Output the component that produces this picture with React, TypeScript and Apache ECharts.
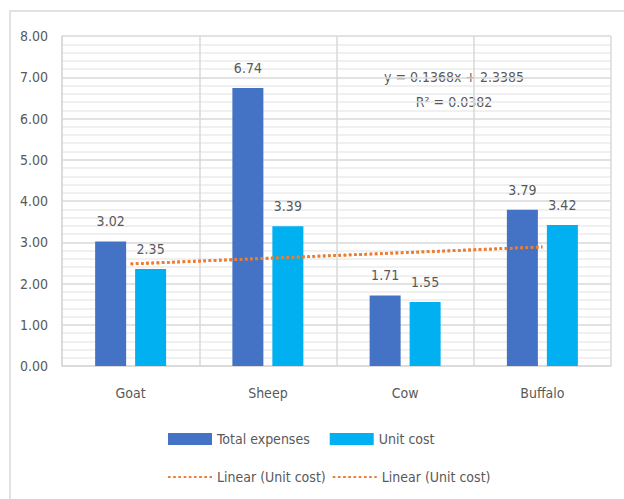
import React, { useEffect, useRef } from "react";
import * as echarts from "echarts";

// Livestock cost comparison
const categories = ["Goat", "Sheep", "Cow", "Buffalo"];
const totalExpenses = [3.02, 6.74, 1.71, 3.79];
const unitCost = [2.35, 3.39, 1.55, 3.42];
// Linear trend of unit cost: y = 0.1368x + 2.3385 at x = 1..4
const unitCostTrend = [2.475, 2.612, 2.749, 2.886];
const trendEquation = "y = 0.1368x + 2.3385";
const trendR2 = "R² = 0.0382";

const FONT = "'DejaVu Sans Condensed', 'Liberation Sans Narrow', Roboto, sans-serif";
const TEXT = "#595959";
const FS = 14;

export default function App() {
  const ref = useRef<HTMLDivElement>(null);

  useEffect(() => {
    if (!ref.current) return;
    const chart = echarts.init(ref.current, undefined, { renderer: "svg" });
    const labelStyle = {
      show: true,
      position: "top" as const,
      distance: 13,
      color: TEXT,
      fontSize: FS,
      fontFamily: FONT,
      formatter: (p: any) => Number(p.value).toFixed(2),
    };
    const trendLine = {
      type: "line" as const,
      data: unitCostTrend,
      symbol: "none",
      z: 5,
      itemStyle: { color: "#ED7D31" },
      lineStyle: { color: "#ED7D31", width: 2.8, type: [2.6, 2.6] },
    };
    chart.setOption({
      animation: false,
      backgroundColor: "#ffffff",
      textStyle: { fontFamily: FONT, color: TEXT },
      grid: { left: 62, top: 36, right: 13, bottom: 133 },
      xAxis: {
        type: "category",
        data: categories,
        axisLine: { lineStyle: { color: "#D9D9D9", width: 1.5 } },
        axisTick: { show: false },
        splitLine: { show: true, lineStyle: { color: "#D9D9D9", width: 1.5 } },
        axisLabel: { color: TEXT, fontSize: FS, fontFamily: FONT, margin: 20 },
      },
      yAxis: {
        type: "value",
        min: 0,
        max: 8,
        interval: 1,
        axisLine: { show: true, lineStyle: { color: "#D9D9D9", width: 1.5 } },
        axisTick: { show: false },
        axisLabel: {
          color: TEXT,
          fontSize: FS,
          fontFamily: FONT,
          margin: 14,
          formatter: (v: number) => v.toFixed(2),
        },
        splitLine: { show: true, lineStyle: { color: "#D9D9D9", width: 1.5 } },
        minorTick: { show: true, splitNumber: 5, length: 0 },
        minorSplitLine: { show: true, lineStyle: { color: "#EBEBEB", width: 1.5 } },
      },
      legend: [
        {
          data: ["Total expenses", "Unit cost"],
          left: 163,
          top: 427,
          itemWidth: 44,
          itemHeight: 12,
          itemGap: 20,
          icon: "rect",
          textStyle: { color: TEXT, fontSize: FS, fontFamily: FONT },
        },
        {
          data: ["Linear (Unit cost)", "Linear (Unit cost) 2"],
          left: 162,
          top: 465,
          itemWidth: 44,
          itemHeight: 14,
          itemGap: 6,
          itemStyle: { opacity: 0 },
          formatter: () => "Linear (Unit cost)",
          textStyle: { color: TEXT, fontSize: FS, fontFamily: FONT },
        },
      ],
      graphic: [
        {
          type: "rect",
          shape: { x: 10, y: 11, width: 700, height: 600 },
          style: { fill: "none", stroke: "#D9D9D9", lineWidth: 1.5 },
          silent: true,
        },
        {
          type: "text",
          x: 454,
          y: 77,
          style: {
            text: trendEquation,
            fill: TEXT,
            fontSize: FS,
            fontFamily: FONT,
            align: "center",
            verticalAlign: "middle",
          },
        },
        {
          type: "text",
          x: 454,
          y: 102,
          style: {
            text: trendR2,
            fill: TEXT,
            fontSize: FS,
            fontFamily: FONT,
            align: "center",
            verticalAlign: "middle",
          },
        },
      ],
      series: [
        {
          name: "Total expenses",
          type: "bar",
          data: totalExpenses,
          barWidth: 31,
          barGap: "29%",
          itemStyle: { color: "#4472C4" },
          label: labelStyle,
        },
        {
          name: "Unit cost",
          type: "bar",
          data: unitCost,
          barWidth: 31,
          barGap: "29%",
          itemStyle: { color: "#00B0F0" },
          label: labelStyle,
        },
        { ...trendLine, name: "Linear (Unit cost)" },
        { ...trendLine, name: "Linear (Unit cost) 2" },
      ],
    });
    return () => chart.dispose();
  }, []);

  return (
    <div
      ref={ref}
      style={{ position: "fixed", left: 0, top: 0, width: 624, height: 499 }}
    />
  );
}
